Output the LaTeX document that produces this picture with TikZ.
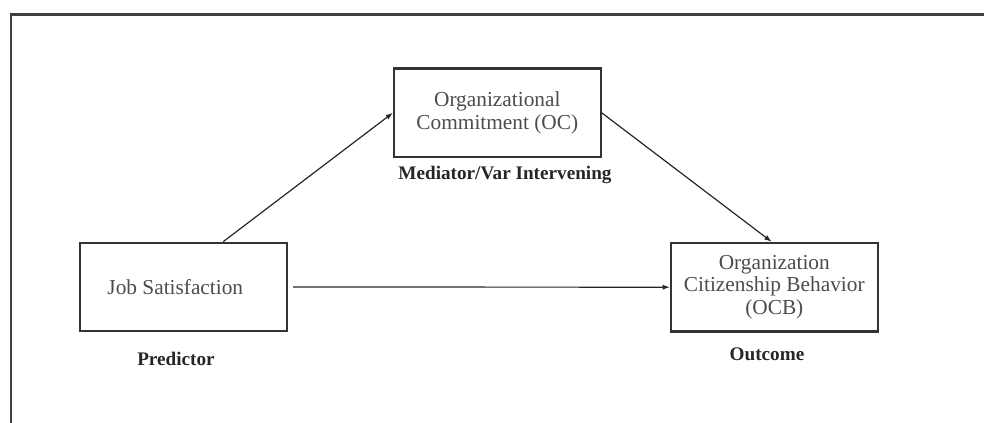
\documentclass[tikz,border=0pt]{standalone}
\usepackage{fontspec}
\setmainfont{Liberation Serif}
\usetikzlibrary{arrows.meta}
\begin{document}
\begin{tikzpicture}[x=0.75pt,y=-0.75pt,
  box/.style={draw=black!80, line width=1.6pt, inner sep=0pt, align=center,
    minimum width=155pt, minimum height=66.5pt, text=black!70,
    font=\fontsize{16}{16.9}\selectfont},
  lbl/.style={inner sep=0pt, text=black!85, font=\fontsize{14.4}{16}\selectfont\bfseries},
  conn/.style={draw=black!85, line width=0.9pt, -{Latex[length=5.5pt,width=4pt]}}]
\useasboundingbox (0,0) rectangle (984,423);
\draw[black!75, line width=1.8pt] (11,430) -- (11,14.5) -- (990,14.5);
\node[box] (js) at (183.3,287) {Job Satisfaction\hspace*{12pt}};
\node[box] (oc) at (497.3,112.8) {Organizational\\Commitment (OC)};
\node[box] (ocb) at (774.3,287.2) {Organization\\Citizenship Behavior\\(OCB)};
\node[lbl] (pred) at (176,359) {Predictor};
\node[lbl] (med) at (505,175) {Mediator/Var Intervening};
\node[lbl] (out) at (767,354) {Outcome};
\draw[conn] ([xshift=30pt]js.north) -- (oc.west);
\draw[conn] (oc.east) -- ([xshift=-2pt]ocb.north);
\draw[conn] ([xshift=4pt]js.east) -- (ocb.west);
\end{tikzpicture}
\end{document}
